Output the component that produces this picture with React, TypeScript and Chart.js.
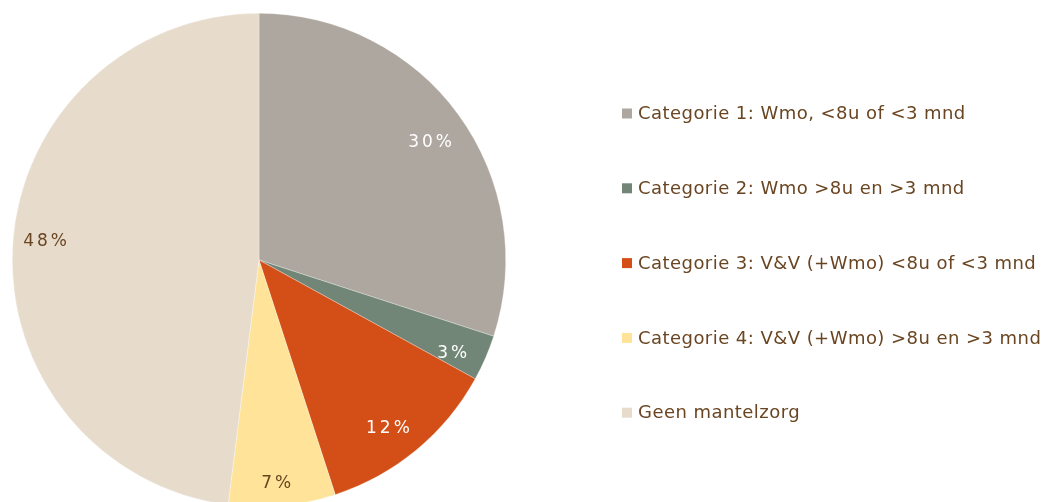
import React, { useEffect, useRef } from "react";
import { Chart, registerables } from "chart.js";

Chart.register(...registerables);

const categories = [
  "Categorie 1: Wmo, <8u of <3 mnd",
  "Categorie 2: Wmo >8u en >3 mnd",
  "Categorie 3: V&V (+Wmo) <8u of <3 mnd",
  "Categorie 4: V&V (+Wmo) >8u en >3 mnd",
  "Geen mantelzorg",
];
const shares = [30, 3, 12, 7, 48];
const shareLabels = ["30%", "3%", "12%", "7%", "48%"];

const sliceColors = ["#aea79f", "#718676", "#d34f17", "#fee398", "#e7dccc"];
const labelColors = ["#ffffff", "#ffffff", "#ffffff", "#6a4522", "#6a4522"];
const textColor = "#6a4522";
const labelRadiusRatio = [0.84, 0.87, 0.86, 0.91, 0.87];
const labelAngleShift = [1.6, 2.5, 2.2, 1.0, 1.3];

const overlayPlugin = {
  id: "overlay",
  afterDraw(chart: any) {
    const ctx = chart.ctx as CanvasRenderingContext2D;
    const meta = chart.getDatasetMeta(0);
    ctx.save();
    ctx.font = "17px 'DejaVu Sans'";
    const ls = 3;
    (ctx as any).letterSpacing = ls + "px";
    ctx.textAlign = "center";
    ctx.textBaseline = "middle";
    meta.data.forEach((arc: any, i: number) => {
      const p = arc.getProps(["x", "y", "startAngle", "endAngle", "outerRadius"], true);
      const mid = (p.startAngle + p.endAngle) / 2 + (labelAngleShift[i] * Math.PI) / 180;
      const r = p.outerRadius * labelRadiusRatio[i];
      ctx.fillStyle = labelColors[i];
      ctx.fillText(shareLabels[i], p.x + Math.cos(mid) * r + ls / 2, p.y + Math.sin(mid) * r);
    });
    ctx.textAlign = "left";
    ctx.font = "18px 'DejaVu Sans'";
    (ctx as any).letterSpacing = "0.45px";
    categories.forEach((c, i) => {
      const y = 113.5 + i * 74.8;
      ctx.fillStyle = sliceColors[i];
      ctx.fillRect(622, y - 5, 10, 10);
      ctx.fillStyle = textColor;
      ctx.fillText(c, 638, y + 1);
    });
    ctx.restore();
  },
};

export default function App() {
  const canvasRef = useRef<HTMLCanvasElement | null>(null);
  useEffect(() => {
    if (!canvasRef.current) return;
    const chart = new Chart(canvasRef.current, {
      type: "pie",
      data: {
        labels: categories,
        datasets: [
          {
            data: shares,
            backgroundColor: sliceColors,
            borderColor: "rgba(255,255,255,0.6)",
            borderWidth: 0.5,
          },
        ],
      },
      options: {
        responsive: false,
        animation: false,
        devicePixelRatio: 1,
        layout: { padding: { left: 12, right: 540, top: 13, bottom: 13 } },
        plugins: {
          legend: { display: false },
          tooltip: { enabled: false },
        },
      },
      plugins: [overlayPlugin],
    });
    return () => chart.destroy();
  }, []);
  return (
    <div style={{ position: "fixed", left: 0, top: 0, width: 1046, height: 502, overflow: "hidden", background: "#fff" }}>
      <canvas ref={canvasRef} width={1046} height={520} style={{ position: "absolute", left: 0, top: 0 }} />
    </div>
  );
}
